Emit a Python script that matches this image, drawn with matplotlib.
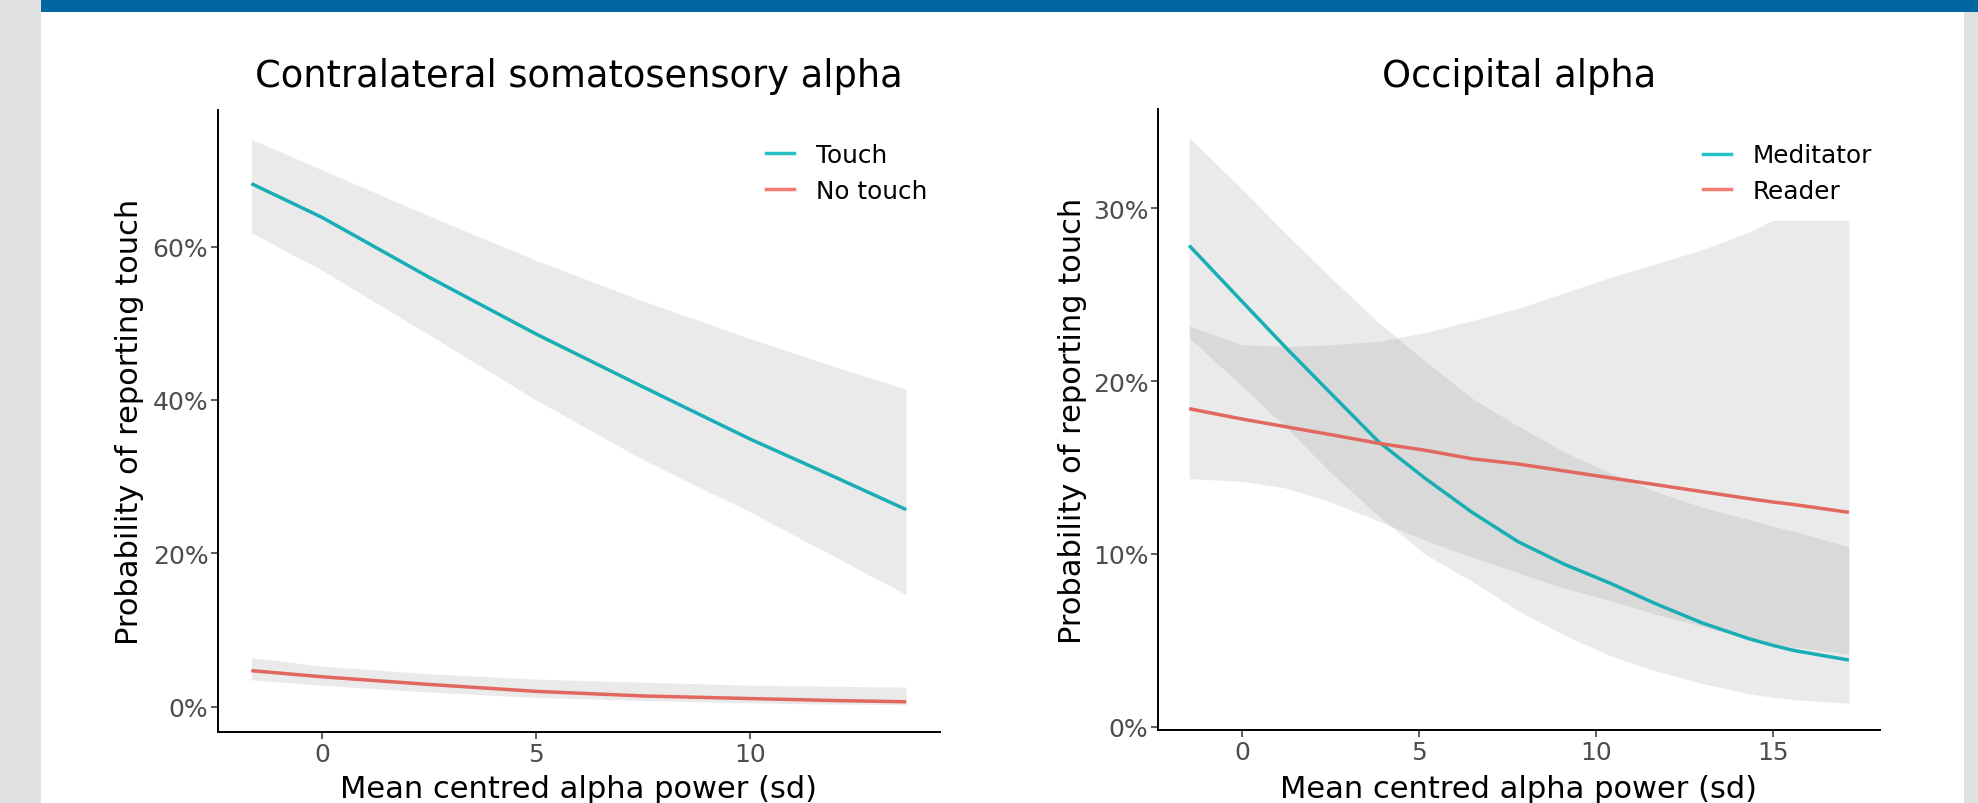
import numpy as np
import matplotlib
matplotlib.use("Agg")
import matplotlib.pyplot as plt
from matplotlib.patches import Rectangle
from matplotlib.lines import Line2D
from matplotlib.ticker import FuncFormatter

# --- data (probability in %) ---
# left panel: contralateral somatosensory alpha
x_som = [-1.65, 0, 2.5, 5, 7.5, 10, 12, 13.65]
touch = [68.2, 63.8, 56.0, 48.6, 41.7, 34.9, 29.9, 25.7]
touch_lo = [61.8, 56.9, 48.5, 40.0, 32.2, 25.4, 19.5, 14.6]
touch_hi = [74.0, 70.0, 64.0, 58.2, 52.9, 48.0, 44.3, 41.4]
notouch = [4.7, 3.9, 2.9, 2.0, 1.4, 1.06, 0.8, 0.64]
notouch_lo = [3.5, 2.8, 1.9, 1.2, 0.8, 0.5, 0.32, 0.27]
notouch_hi = [6.4, 5.3, 4.3, 3.6, 3.2, 2.8, 2.66, 2.55]

# right panel: occipital alpha
x_occ = [-1.5, 0, 1.25, 2.5, 3.85, 5.15, 6.5, 7.8, 9.1, 10.4, 11.7, 13, 14.3, 15, 15.6, 17.15]
medit = [27.85, 24.6, 21.9, 19.3, 16.5, 14.4, 12.4, 10.7, 9.4, 8.3, 7.1, 6.0, 5.1, 4.7, 4.4, 3.85]
medit_lo = [22.5, 19.7, 17.3, 14.7, 12.2, 10.0, 8.4, 6.7, 5.3, 4.1, 3.2, 2.5, 1.9, 1.7, 1.55, 1.35]
medit_hi = [34.1, 31.1, 28.5, 26.0, 23.4, 21.2, 19.0, 17.4, 15.9, 14.7, 13.6, 12.7, 12.0, 11.6, 11.3, 10.4]
reader = [18.4, 17.8, 17.35, 16.9, 16.4, 16.0, 15.5, 15.2, 14.8, 14.4, 14.0, 13.6, 13.2, 13.0, 12.85, 12.4]
reader_lo = [14.35, 14.2, 13.8, 13.0, 11.9, 10.8, 9.8, 8.9, 8.0, 7.3, 6.5, 5.8, 5.1, 4.8, 4.6, 4.2]
reader_hi = [23.2, 22.1, 22.0, 22.1, 22.3, 22.8, 23.5, 24.2, 25.1, 26.0, 26.8, 27.6, 28.6, 29.3, 29.3, 29.3]

teal = "#19AEB6"
red = "#E2675F"
teal_key = "#26C1C7"
red_key = "#F47B73"

W, H = 1978, 804
fig = plt.figure(figsize=(W / 100, H / 100), dpi=100)
fig.patch.set_facecolor("white")

# slide frame: grey sides and blue bar on top
fig.patches.append(Rectangle((0, 0), 41 / W, 1, transform=fig.transFigure,
                             facecolor="#E1E1E1", edgecolor="none", zorder=0))
fig.patches.append(Rectangle((1964 / W, 0), 1 - 1964 / W, (H - 13) / H,
                             transform=fig.transFigure,
                             facecolor="#E1E1E1", edgecolor="none", zorder=0))
fig.patches.append(Rectangle((41 / W, (H - 13) / H), 1 - 41 / W, 13 / H,
                             transform=fig.transFigure,
                             facecolor="#0067A3", edgecolor="none", zorder=0))

ax1 = fig.add_axes([218 / W, (H - 733) / H, (940 - 218) / W, (733 - 111) / H])
ax2 = fig.add_axes([1158 / W, (H - 731) / H, (1880 - 1158) / W, (731 - 110) / H])

pct = FuncFormatter(lambda v, p: "%d%%" % round(v))


def style(ax, title, ty, xl_y, yl_x):
    for s in ["top", "right"]:
        ax.spines[s].set_visible(False)
    for s in ["left", "bottom"]:
        ax.spines[s].set_linewidth(1.4)
        ax.spines[s].set_color("black")
    ax.tick_params(length=5, width=1.1, color="#333333", labelsize=18,
                   labelcolor="#4D4D4D", pad=2)
    ax.yaxis.set_major_formatter(pct)
    ax.text(0.5, ty, title, transform=ax.transAxes, ha="center",
            va="baseline", fontsize=26.5, color="black")
    ax.set_xlabel("Mean centred alpha power (sd)", fontsize=22, color="black")
    ax.xaxis.label.set_va("baseline")
    ax.xaxis.set_label_coords(0.5, xl_y)
    ax.set_ylabel("Probability of reporting touch", fontsize=22, color="black")
    ax.yaxis.set_label_coords(yl_x, 0.5)


# left panel
ax1.fill_between(x_som, touch_lo, touch_hi, color="#999999", alpha=0.2, lw=0)
ax1.fill_between(x_som, notouch_lo, notouch_hi, color="#999999", alpha=0.2, lw=0)
ax1.plot(x_som, touch, color=teal, lw=2.5, solid_capstyle="butt")
ax1.plot(x_som, notouch, color=red, lw=2.5, solid_capstyle="butt")
ax1.set_xlim(-2.43, 14.44)
ax1.set_ylim(-3.3, 77.8)
ax1.set_xticks([0, 5, 10])
ax1.set_yticks([0, 20, 40, 60])
style(ax1, "Contralateral somatosensory alpha", 1.0386, -0.1045, -0.1025)
h1 = [Line2D([], [], color=teal_key, lw=2.5), Line2D([], [], color=red_key, lw=2.5)]
ax1.legend(h1, ["Touch", "No touch"], loc="upper left", bbox_to_anchor=(0.759, 0.947),
           frameon=False, fontsize=17.8, borderpad=0, borderaxespad=0,
           handlelength=1.13, handletextpad=0.89, labelspacing=0.47)

# right panel
ax2.fill_between(x_occ, medit_lo, medit_hi, color="#999999", alpha=0.2, lw=0)
ax2.fill_between(x_occ, reader_lo, reader_hi, color="#999999", alpha=0.2, lw=0)
ax2.plot(x_occ, medit, color=teal, lw=2.5, solid_capstyle="butt")
ax2.plot(x_occ, reader, color=red, lw=2.5, solid_capstyle="butt")
ax2.set_xlim(-2.38, 18.03)
ax2.set_ylim(-0.2, 35.75)
ax2.set_xticks([0, 5, 10, 15])
ax2.set_yticks([0, 10, 20, 30])
style(ax2, "Occipital alpha", 1.037, -0.108, -0.0983)
h2 = [Line2D([], [], color=teal_key, lw=2.5), Line2D([], [], color=red_key, lw=2.5)]
ax2.legend(h2, ["Meditator", "Reader"], loc="upper left", bbox_to_anchor=(0.755, 0.945),
           frameon=False, fontsize=17.8, borderpad=0, borderaxespad=0,
           handlelength=1.13, handletextpad=0.89, labelspacing=0.47)

fig.savefig("out.png", dpi=100)
